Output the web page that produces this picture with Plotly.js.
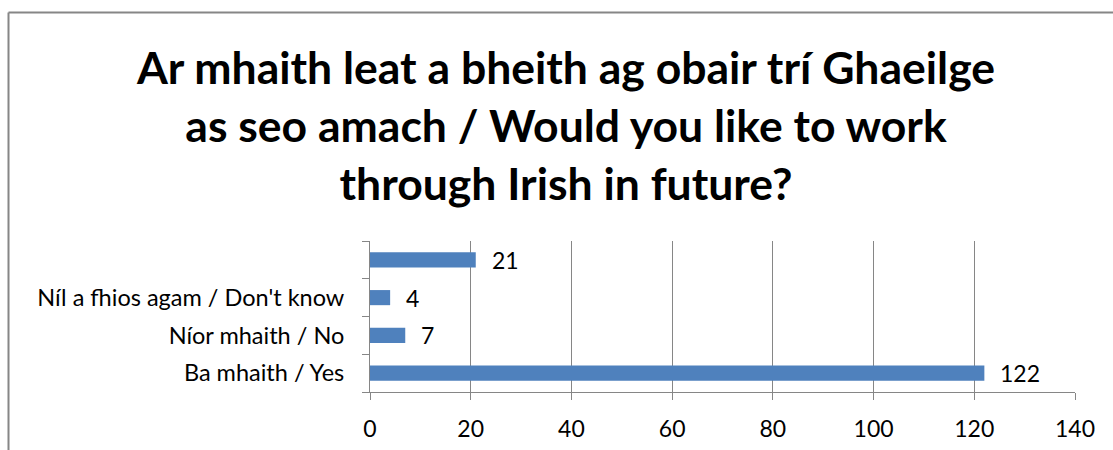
<!DOCTYPE html>
<html>
<head>
<meta charset="utf-8">
<script src="https://cdn.plot.ly/plotly-3.0.1.min.js"></script>
<style>html,body{margin:0;padding:0;background:#fff;}#chart{width:1113px;height:450px;}</style>
</head>
<body>
<div id="chart"></div>
<script>
const categories = ["Ba mhaith / Yes", "Níor mhaith / No", "Níl a fhios agam / Don't know", " "];
const counts = [122, 7, 4, 21];
const xTicks = [0, 20, 40, 60, 80, 100, 120, 140];
const titleText = "Ar mhaith leat a bheith ag obair trí Ghaeilge<br>as seo amach / Would you like to work<br>through Irish in future?";

const FONT = "Lato, 'Open Sans', sans-serif";
const GRAY = "#868686";

const W = 1113, H = 450;
const m = {l: 370, r: 38, t: 241, b: 58};
const pw = W - m.l - m.r, ph = H - m.t - m.b;
const px = v => (v - m.l) / pw;
const py = v => 1 - (v - m.t) / ph;

const trace = {
  type: "bar",
  orientation: "h",
  x: counts,
  y: categories,
  width: 0.4,
  marker: {color: "#4F81BD", line: {width: 0}},
  hoverinfo: "none"
};

const annotations = counts.map((v, i) => ({
  x: v, y: categories[i], xref: "x", yref: "y",
  text: String(v), showarrow: false, xanchor: "left", yanchor: "middle",
  xshift: 14, font: {family: FONT, size: 23, color: "#000"}
}));

const layout = {
  width: W, height: H,
  margin: m,
  paper_bgcolor: "#fff", plot_bgcolor: "#fff",
  showlegend: false,
  title: {
    text: titleText,
    font: {family: FONT, size: 44.5, color: "#000", weight: "bold"},
    xref: "paper", x: px(566), xanchor: "center",
    yref: "container", y: 1 - 84/450, yanchor: "top"
  },
  xaxis: {
    range: [0, 140], tickvals: xTicks, ticktext: xTicks.map(String),
    showgrid: true, gridcolor: GRAY, gridwidth: 1,
    showline: true, linecolor: GRAY, linewidth: 1,
    ticks: "outside", ticklen: 7, tickcolor: GRAY, tickwidth: 1,
    ticklabelstandoff: 9,
    zeroline: false, fixedrange: true,
    tickfont: {family: FONT, size: 23, color: "#000"}
  },
  yaxis: {
    type: "category", categoryorder: "array", categoryarray: categories,
    range: [-0.5, 3.5],
    showgrid: false,
    showline: true, linecolor: GRAY, linewidth: 1,
    ticks: "outside", tickson: "boundaries", ticklen: 7, tickcolor: GRAY, tickwidth: 1,
    ticklabelstandoff: 20,
    zeroline: false, fixedrange: true,
    tickfont: {family: FONT, size: 23.5, color: "#000"}
  },
  annotations: annotations,
  shapes: [
    {type: "line", xref: "paper", yref: "paper", x0: px(8.5), x1: px(1120), y0: py(12.5), y1: py(12.5), line: {color: GRAY, width: 2}},
    {type: "line", xref: "paper", yref: "paper", x0: px(8.5), x1: px(8.5), y0: py(12.5), y1: py(460), line: {color: GRAY, width: 2}}
  ]
};

Plotly.newPlot("chart", [trace], layout, {displayModeBar: false, staticPlot: true});
</script>
</body>
</html>
